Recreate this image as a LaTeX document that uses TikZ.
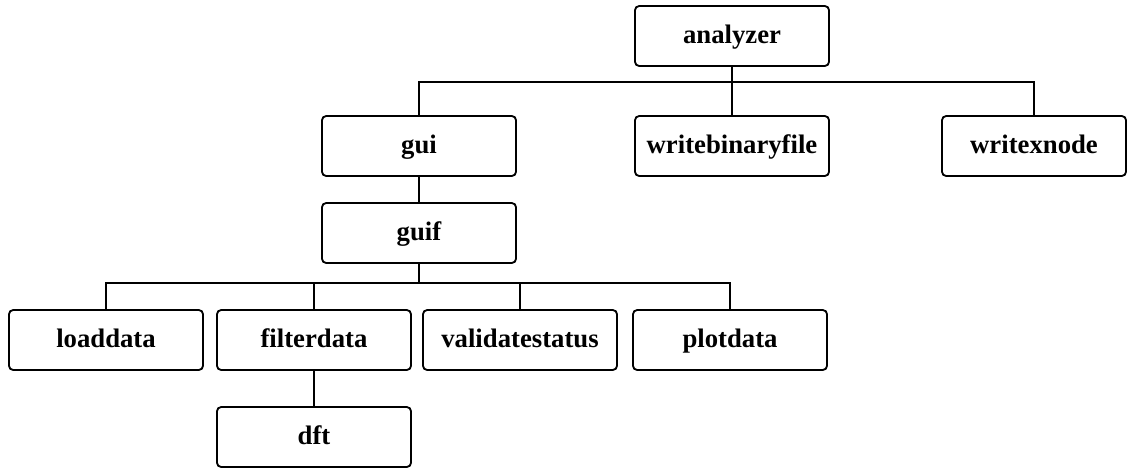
\documentclass[tikz,border=0pt]{standalone}
\usepackage{fontspec}
\setmainfont{Liberation Serif}
\usepackage{tikz}
\usetikzlibrary{positioning, calc}

\begin{document}
\begin{tikzpicture}[x=0.025cm, y=-0.025cm,
    module/.style={draw, line width=1.3pt, rounded corners=3pt, inner sep=0pt,
      minimum width=4.85cm, minimum height=1.5cm, text height=13pt, text depth=3pt,
      font=\bfseries\fontsize{19}{21}\selectfont},
    link/.style={line width=0.9pt}]
        \useasboundingbox (0,0) rectangle (1129,469);
        % top level
        \node[module] (analyzer) at (732,36) {analyzer};
        \coordinate (bus1) at (732,82);
        \node[module] (gui) at (419,146) {gui};
        \node[module] (writebinaryfile) at (732,146) {writebinaryfile};
        \node[module, minimum width=4.6cm] (writexnode) at (1034,146) {writexnode};
        \draw[link] (analyzer.south) -- (writebinaryfile.north);
        \draw[link] (gui.north) |- (bus1) -| (writexnode.north);
        % gui branch
        \node[module] (guif) at (419,233) {guif};
        \draw[link] (gui.south) -- (guif.north);
        \coordinate (bus2) at (419,283);
        \node[module] (loaddata) at (106,340) {loaddata};
        \node[module] (filterdata) at (314,340) {filterdata};
        \node[module] (validatestatus) at (520,340) {validatestatus};
        \node[module] (plotdata) at (730,340) {plotdata};
        \draw[link] (guif.south) -- (bus2);
        \draw[link] (loaddata.north) |- (bus2) -| (plotdata.north);
        \draw[link] (filterdata.north) -- (filterdata.north |- bus2);
        \draw[link] (validatestatus.north) -- (validatestatus.north |- bus2);
        % filter
        \node[module] (dft) at (314,437) {dft};
        \draw[link] (filterdata.south) -- (dft.north);
\end{tikzpicture}
\end{document}
